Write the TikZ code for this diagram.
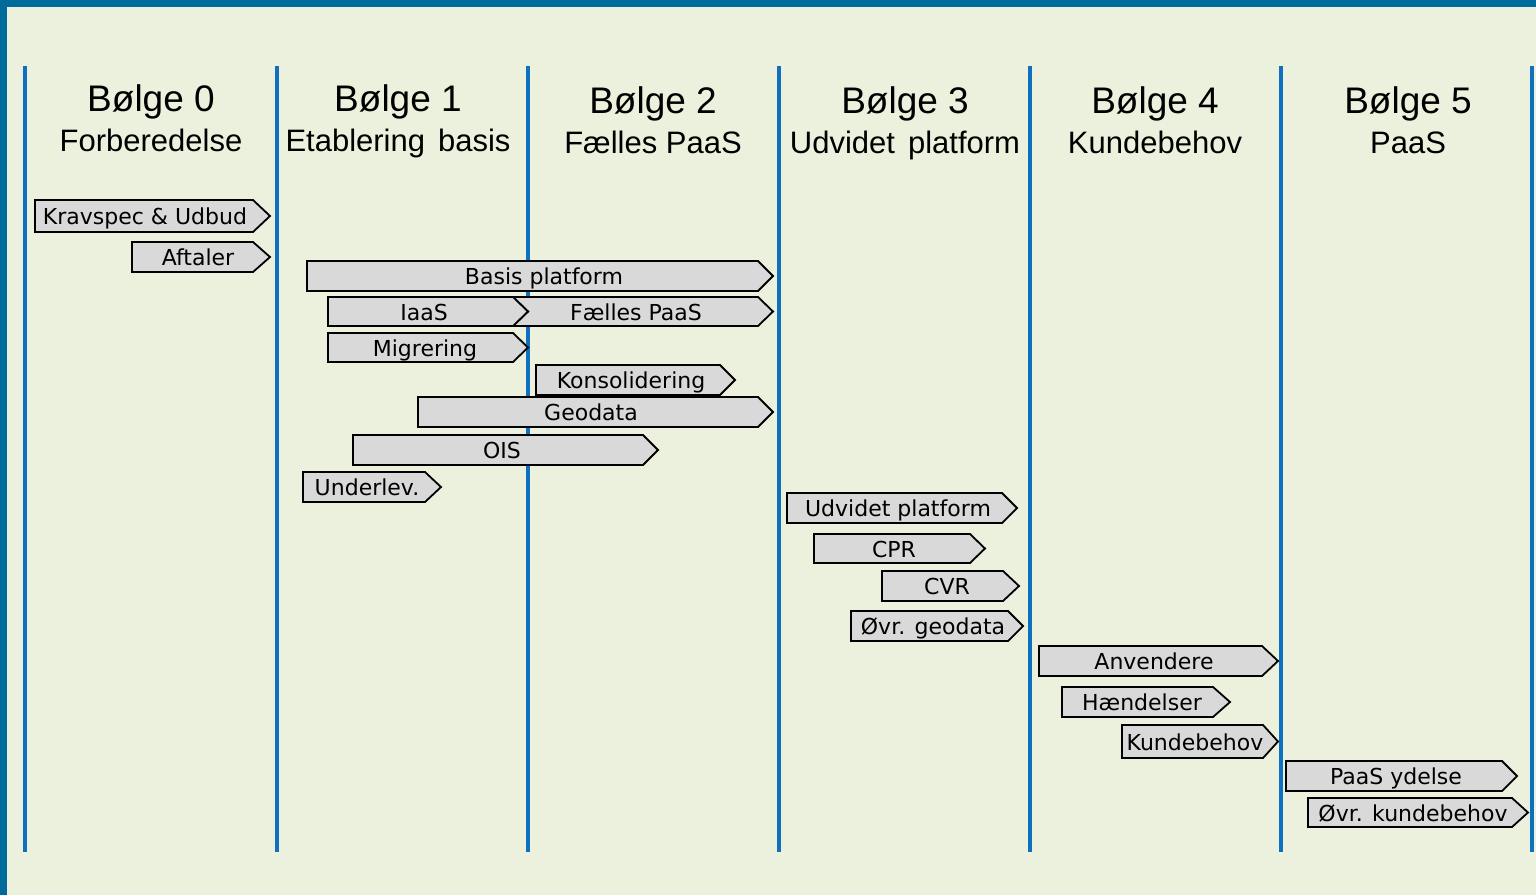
\documentclass[tikz,border=0pt]{standalone}
\usepackage{fontspec}
\setmainfont{Liberation Sans}
\newfontfamily\boxfont{DejaVu Sans}
\definecolor{bgc}{RGB}{236,241,222}
\definecolor{framec}{RGB}{0,106,155}
\definecolor{linec}{RGB}{16,112,192}
\definecolor{boxc}{RGB}{217,217,217}
\tikzset{
  wavebox/.style={draw=black, fill=boxc, line width=1.8pt, line join=miter},
  wavetext/.style={inner sep=0pt, text height=15.5pt, text depth=0pt, font=\boxfont\fontsize{22}{24}\selectfont},
  headtitle/.style={anchor=base, inner sep=0pt, font=\fontsize{37}{40}\selectfont},
  headsub/.style={anchor=base, inner sep=0pt, font=\fontsize{31}{34}\selectfont},
  divider/.style={draw=linec, line width=4pt}
}
\newcommand\wbox[8]{%
  \draw[wavebox] (#2,#5) -- (#3,#5) -- (#4,{(#5+#6)/2}) -- (#3,#6) -- (#2,#6) -- cycle;
  \node[wavetext] (#1) at (#7,{(#5+#6)/2+1.2}) {#8};}
\begin{document}
\begin{tikzpicture}[x=1pt,y=-1pt]
\useasboundingbox (0,0) rectangle (1536,895);
\fill[bgc] (0,0) rectangle (1536,895);
\fill[framec] (0,0) rectangle (1536,7);
\fill[framec] (0,0) rectangle (7,895);
% dividers
\foreach \x in {25,277,528,779,1030,1281,1532}
  \draw[divider] (\x,66) -- (\x,852);
% headings
\node[headtitle] (h0) at (151,111) {Bølge 0};
\node[headsub] (s0) at (151,151) {Forberedelse};
\node[headtitle] (h1) at (398,111) {Bølge 1};
\node[headsub] (s1) at (398,151) {Etablering\hspace{0.42em}basis};
\node[headtitle] (h2) at (653,113) {Bølge 2};
\node[headsub] (s2) at (653,153) {Fælles PaaS};
\node[headtitle] (h3) at (905,113) {Bølge 3};
\node[headsub] (s3) at (905,153) {Udvidet\hspace{0.42em}platform};
\node[headtitle] (h4) at (1155,113) {Bølge 4};
\node[headsub] (s4) at (1155,153) {Kundebehov};
\node[headtitle] (h5) at (1408,113) {Bølge 5};
\node[headsub] (s5) at (1408,153) {PaaS};
% boxes
\wbox{krav}{35}{253}{270}{200}{232}{145}{Kravspec \& Udbud}
\wbox{aft}{132}{253}{270}{242}{272}{198}{Aftaler}
\wbox{basis}{307}{758}{773}{261}{291}{544}{Basis platform}
\draw[wavebox] (513,297) -- (758,297) -- (773,311.5) -- (758,326) -- (513,326) -- (528,311.5) -- cycle;
\node[wavetext] (fpaas) at (636,312.7) {Fælles PaaS};
\wbox{iaas}{328}{513}{528}{297}{326}{424}{IaaS}
\wbox{migr}{328}{513}{528}{333}{362}{425}{Migrering}
\wbox{kons}{536}{720}{735}{365}{395}{631}{Konsolidering}
\wbox{geo}{418}{758}{773}{397}{427}{591}{Geodata}
\wbox{ois}{353}{643}{658}{435}{465}{502}{OIS}
\wbox{under}{303}{425}{441}{472}{502}{367}{Underlev.}
\wbox{udv}{787}{1002}{1017}{493}{523}{898}{Udvidet platform}
\wbox{cpr}{814}{970}{985}{534}{563}{894}{CPR}
\wbox{cvr}{882}{1003}{1019}{571}{601}{947}{CVR}
\wbox{ovrgeo}{851}{1008}{1023}{611}{641}{933}{Øvr. geodata}
\wbox{anv}{1039}{1262}{1278}{646}{676}{1154}{Anvendere}
\wbox{haend}{1062}{1213}{1230}{687}{717}{1142}{Hændelser}
\wbox{kunde}{1122}{1263}{1278}{725}{758}{1195}{Kundebehov}
\wbox{paasy}{1286}{1502}{1517}{761}{791}{1396}{PaaS ydelse}
\wbox{ovrkunde}{1308}{1512}{1528}{798}{827}{1413}{Øvr. kundebehov}
\end{tikzpicture}
\end{document}
